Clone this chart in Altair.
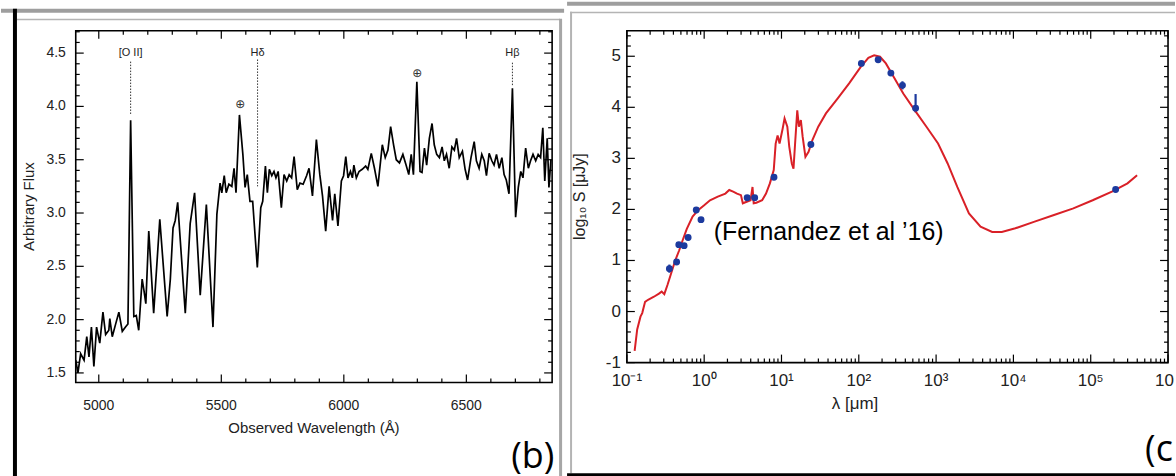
import altair as alt
import pandas as pd

# ---------------- panel (b): optical spectrum ----------------
spec_wave = [4906, 4915, 4926, 4940, 4951, 4960, 4970, 4980, 4991, 5004,
             5017, 5028, 5041, 5045, 5055, 5069, 5082, 5096, 5109, 5119,
             5130, 5143, 5153, 5163, 5177, 5184, 5192, 5204, 5224, 5249,
             5279, 5292, 5303, 5312, 5322, 5353, 5373, 5391, 5414, 5439,
             5466, 5482, 5495, 5502, 5512, 5520, 5531, 5543, 5552, 5560,
             5574, 5588, 5597, 5606, 5617, 5628, 5647, 5661, 5669, 5680,
             5688, 5696, 5706, 5715, 5723, 5732, 5745, 5756, 5767, 5777,
             5787, 5797, 5810, 5821, 5834, 5848, 5858, 5872, 5888, 5902,
             5913, 5926, 5940, 5954, 5963, 5976, 5990, 5999, 6008, 6017,
             6027, 6035, 6041, 6051, 6062, 6075, 6089, 6098, 6112, 6125,
             6139, 6157, 6169, 6180, 6191, 6203, 6214, 6227, 6241, 6254,
             6265, 6275, 6284, 6298, 6311, 6319, 6329, 6338, 6349, 6360,
             6369, 6379, 6390, 6401, 6410, 6419, 6430, 6441, 6451, 6460,
             6471, 6484, 6495, 6505, 6519, 6532, 6541, 6552, 6563, 6573,
             6582, 6593, 6604, 6613, 6623, 6634, 6645, 6654, 6663, 6674,
             6688, 6701, 6712, 6722, 6731, 6742, 6753, 6762, 6772, 6783,
             6793, 6803, 6812, 6820, 6830, 6837, 6845]
spec_flux = [1.62, 1.50, 1.68, 1.62, 1.84, 1.65, 1.93, 1.56, 1.93, 1.78,
             2.07, 1.86, 1.90, 2.01, 1.84, 1.96, 2.07, 1.89, 1.93, 1.96,
             3.87, 2.03, 2.04, 1.90, 2.38, 2.28, 2.15, 2.83, 2.06, 2.94,
             2.03, 2.38, 2.86, 2.93, 3.10, 2.06, 2.90, 3.19, 2.23, 3.08,
             1.93, 2.99, 3.28, 3.19, 3.35, 3.19, 3.27, 3.25, 3.42, 3.19,
             3.92, 3.55, 3.24, 3.36, 3.11, 3.11, 2.49, 3.05, 3.11, 3.44,
             3.19, 3.41, 3.35, 3.39, 3.33, 3.39, 3.05, 3.36, 3.30, 3.36,
             3.33, 3.53, 3.22, 3.28, 3.27, 3.35, 3.42, 3.16, 3.69, 3.36,
             3.16, 2.83, 3.25, 2.93, 3.18, 2.88, 3.30, 3.35, 3.53, 3.33,
             3.39, 3.33, 3.45, 3.33, 3.39, 3.41, 3.44, 3.41, 3.56, 3.42,
             3.25, 3.64, 3.52, 3.59, 3.81, 3.64, 3.50, 3.47, 3.55, 3.45,
             3.36, 3.55, 3.36, 4.23, 3.39, 3.38, 3.61, 3.45, 3.70, 3.84,
             3.64, 3.55, 3.52, 3.62, 3.49, 3.55, 3.42, 3.62, 3.59, 3.70,
             3.52, 3.58, 3.41, 3.31, 3.52, 3.67, 3.49, 3.42, 3.55, 3.49,
             3.35, 3.56, 3.49, 3.45, 3.55, 3.42, 3.52, 3.36, 3.31, 3.18,
             4.17, 2.96, 3.24, 3.39, 3.33, 3.61, 3.42, 3.49, 3.55, 3.49,
             3.55, 3.52, 3.80, 3.30, 3.70, 3.24, 3.50]

line_names = ["[O II]", "Hδ", "Hβ"]
line_wave = [5130, 5648, 6688]
line_top = [4.42, 4.44, 4.41]
line_bottom = [3.92, 3.25, 4.19]
line_label_y = [4.50, 4.50, 4.50]

sky_wave = [5577, 6300]
sky_y = [4.02, 4.31]
sky_symbol = ["⊕", "⊕"]

spec_x_ticks = [5000, 5500, 6000, 6500]
spec_x_labels = ["5000", "5500", "6000", "6500"]
spec_y_ticks = [1.5, 2.0, 2.5, 3.0, 3.5, 4.0, 4.5]
spec_y_labels = ["1.5", "2.0", "2.5", "3.0", "3.5", "4.0", "4.5"]

# ---------------- panel (c): SED ----------------
sed_lam = [0.126, 0.136, 0.150, 0.158, 0.172, 0.188, 0.224, 0.260, 0.282, 0.305,
           0.335, 0.385, 0.422, 0.473, 0.531, 0.596, 0.708, 0.841, 1.0, 1.19,
           1.50, 1.88, 2.11, 2.37, 2.66, 2.99, 3.16, 3.55, 3.98, 4.22,
           4.37, 4.73, 5.62, 6.31, 7.08, 7.94, 8.41, 8.91, 9.44, 10.35,
           10.96, 11.9, 12.6, 13.6, 14.3, 15.0, 16.0, 16.8, 17.8, 18.8,
           20.4, 22.4, 25.1, 29.9, 37.6, 53.1, 75.0, 106, 133, 158,
           188, 224, 282, 376, 531, 750, 1060, 1410, 1880, 2660,
           3760, 5310, 7080, 10600, 18800, 33500, 59600, 106000, 188000, 299000,
           398000]
sed_logS = [-0.77, -0.35, -0.10, -0.03, 0.19, 0.23, 0.29, 0.35, 0.39, 0.34,
            0.52, 0.81, 1.00, 1.19, 1.41, 1.62, 1.86, 1.99, 2.08, 2.18,
            2.25, 2.31, 2.38, 2.35, 2.31, 2.28, 2.12, 2.15, 2.18, 2.44,
            2.12, 2.13, 2.18, 2.31, 2.51, 2.77, 3.29, 3.45, 3.29, 3.58,
            3.78, 3.62, 3.23, 2.90, 2.80, 3.29, 3.94, 3.62, 3.75, 3.42,
            3.03, 3.13, 3.36, 3.62, 3.88, 4.17, 4.47, 4.79, 4.97, 5.02,
            4.99, 4.86, 4.60, 4.27, 3.94, 3.62, 3.29, 2.90, 2.44, 1.92,
            1.66, 1.56, 1.56, 1.63, 1.76, 1.89, 2.02, 2.18, 2.35, 2.51,
            2.67]

phot_lam = [0.355, 0.44, 0.47, 0.55, 0.62, 0.79, 0.91, 3.6, 4.5, 8.0,
            24, 108, 178, 260, 367, 543, 210000]
phot_logS = [0.84, 0.97, 1.31, 1.29, 1.45, 1.99, 1.80, 2.23, 2.23, 2.63,
             3.27, 4.86, 4.93, 4.67, 4.43, 3.98, 2.39]
phot_lo = [0.76, 0.94, 1.27, 1.25, 1.42, 1.96, 1.77, 2.20, 2.20, 2.60,
           3.24, 4.83, 4.90, 4.62, 4.35, 3.90, 2.36]
phot_hi = [0.92, 1.00, 1.35, 1.33, 1.48, 2.02, 1.83, 2.26, 2.26, 2.66,
           3.30, 4.89, 4.96, 4.72, 4.51, 4.26, 2.42]

note_text = ["(Fernandez et al ’16)"]
note_lam = [1.33]
note_logS = [1.56]

sed_x_ticks = [0.1, 1, 10, 100, 1000, 1e4, 1e5]
sed_x_labels = ["10⁻¹", "10⁰", "10¹", "10²", "10³", "10⁴", "10⁵"]
sed_x_edge_tick = [1e6]
sed_x_edge_label = ["10"]
sed_x_major = [0.1, 1, 10, 100, 1000, 1e4, 1e5, 1e6]
sed_y_ticks = [-1, 0, 1, 2, 3, 4, 5]
sed_y_labels = ["-1", "0", "1", "2", "3", "4", "5"]

# minor tick positions (axis decoration)
spec_x_minor = [v for v in range(5000, 6900, 100) if v % 500]
spec_y_minor = [round(1.5 + 0.1 * i, 1) for i in range(33)]
spec_y_minor = [v for v in spec_y_minor if round(v * 2) != v * 2]
sed_y_minor = [round(-1 + 0.2 * i, 1) for i in range(33)]
sed_y_minor = [v for v in sed_y_minor if v != int(v)]
sed_x_minor = [m * 10.0 ** k for k in range(-1, 6) for m in range(2, 10)]

FONT = "Liberation Sans"
INK = "#222"
W1, H1 = 478, 353
W2, H2 = 543, 333
MAJ, MIN = 8, 4

X1 = (4906, 6850)
Y1 = (1.41, 4.71)
X2 = (0.1, 1e6)
Y2 = (-1, 5.5)

xs1 = alt.Scale(domain=list(X1), nice=False, zero=False)
ys1 = alt.Scale(domain=list(Y1), nice=False, zero=False)
xs2 = alt.Scale(type="log", domain=list(X2), nice=False)
ys2 = alt.Scale(domain=list(Y2), nice=False, zero=False)

# tick lengths expressed in data units of each axis
uy1 = (Y1[1] - Y1[0]) / H1
ux1 = (X1[1] - X1[0]) / W1
uy2 = (Y2[1] - Y2[0]) / H2
dec2 = W2 / 7.0  # pixels per decade on the log axis


def tick_layers(xscale, yscale, xsets, ysets):
    out = []
    for vals, a, b in xsets:
        df = pd.DataFrame({"v": vals, "a": a, "b": b})
        out.append(alt.Chart(df).mark_rule(color="black", strokeWidth=1.2).encode(
            x=alt.X("v:Q", scale=xscale, axis=None),
            y=alt.Y("a:Q", scale=yscale, axis=None),
            y2="b:Q"))
    for vals, a, b in ysets:
        df = pd.DataFrame({"v": vals, "a": a, "b": b})
        out.append(alt.Chart(df).mark_rule(color="black", strokeWidth=1.2).encode(
            y=alt.Y("v:Q", scale=yscale, axis=None),
            x=alt.X("a:Q", scale=xscale, axis=None),
            x2="b:Q"))
    return out


def x_labels(vals, texts, scale, y, size, **kw):
    df = pd.DataFrame({"v": vals, "t": texts})
    return alt.Chart(df).mark_text(font=FONT, fontSize=size, baseline="top",
                                   color=INK, **kw).encode(
        x=alt.X("v:Q", scale=scale, axis=None), y=alt.value(y), text="t:N")


def y_labels(vals, texts, scale, x, size):
    df = pd.DataFrame({"v": vals, "t": texts})
    return alt.Chart(df).mark_text(font=FONT, fontSize=size, align="right",
                                   baseline="middle", color=INK).encode(
        y=alt.Y("v:Q", scale=scale, axis=None), x=alt.value(x), text="t:N")


def title_text(text, x, y, size, **kw):
    return alt.Chart(pd.DataFrame({"k": [0]})).mark_text(
        text=text, font=FONT, fontSize=size, color=INK, **kw).encode(
        x=alt.value(x), y=alt.value(y))


def deco_rect(x1, x2, y1, y2, color):
    return alt.Chart(pd.DataFrame({"k": [0]})).mark_rect(color=color).encode(
        x=alt.value(x1), x2=alt.value(x2), y=alt.value(y1), y2=alt.value(y2))


def deco_text(text, x, y):
    return alt.Chart(pd.DataFrame({"k": [0]})).mark_text(
        text=text, font="Open Sans", fontSize=36, align="left",
        baseline="alphabetic", color="black").encode(x=alt.value(x), y=alt.value(y))


# ---------------- left chart ----------------
spec_df = pd.DataFrame({"wave": spec_wave, "flux": spec_flux})
lines_df = pd.DataFrame({"name": line_names, "wave": line_wave, "top": line_top,
                         "bottom": line_bottom, "ly": line_label_y})
sky_df = pd.DataFrame({"wave": sky_wave, "y": sky_y, "s": sky_symbol})

spec_line = alt.Chart(spec_df).mark_line(color="black", strokeWidth=1.7).encode(
    x=alt.X("wave:Q", scale=xs1, axis=None),
    y=alt.Y("flux:Q", scale=ys1, axis=None),
)

line_rules = alt.Chart(lines_df).mark_rule(color="#333", strokeWidth=1, strokeDash=[1.5, 1.5]).encode(
    x=alt.X("wave:Q", scale=xs1, axis=None),
    y=alt.Y("top:Q", scale=ys1, axis=None),
    y2="bottom:Q",
)

line_text = alt.Chart(lines_df).mark_text(font=FONT, fontSize=11, color=INK).encode(
    x=alt.X("wave:Q", scale=xs1, axis=None),
    y=alt.Y("ly:Q", scale=ys1, axis=None),
    text="name:N",
)

sky_text = alt.Chart(sky_df).mark_text(font="DejaVu Sans", fontSize=12, color="#333").encode(
    x=alt.X("wave:Q", scale=xs1, axis=None),
    y=alt.Y("y:Q", scale=ys1, axis=None),
    text="s:N",
)

left_ticks = tick_layers(
    xs1, ys1,
    [(spec_x_ticks, Y1[0], Y1[0] + MAJ * uy1), (spec_x_ticks, Y1[1], Y1[1] - MAJ * uy1),
     (spec_x_minor, Y1[0], Y1[0] + MIN * uy1), (spec_x_minor, Y1[1], Y1[1] - MIN * uy1)],
    [(spec_y_ticks, X1[0], X1[0] + MAJ * ux1), (spec_y_ticks, X1[1], X1[1] - MAJ * ux1),
     (spec_y_minor, X1[0], X1[0] + MIN * ux1), (spec_y_minor, X1[1], X1[1] - MIN * ux1)],
)

left = alt.layer(
    deco_rect(-75, 490, -22, -18, "#9e9e9e"),
    deco_rect(-59, 486, -12, -10.5, "#b4b4b4"),
    deco_rect(-63, -59, -22, 454, "black"),
    deco_rect(485, 488, -12, 451, "#a6a6a6"),
    deco_rect(-75, 490, 451, 454, "black"),
    deco_text("(b)", 437, 439),
    x_labels(spec_x_ticks, spec_x_labels, xs1, H1 + 17, 14),
    y_labels(spec_y_ticks, spec_y_labels, ys1, -10, 14),
    title_text("Observed Wavelength (Å)", W1 / 2, H1 + 39, 15, baseline="top"),
    title_text("Arbitrary Flux", -47, H1 / 2, 15, angle=270, baseline="middle"),
    *left_ticks,
    line_rules, line_text, sky_text, spec_line,
).properties(width=W1, height=H1)

# ---------------- right chart ----------------
sed_df = pd.DataFrame({"lam": sed_lam, "s": sed_logS})
phot_df = pd.DataFrame({"lam": phot_lam, "s": phot_logS, "lo": phot_lo, "hi": phot_hi})
note_df = pd.DataFrame({"lam": note_lam, "s": note_logS, "t": note_text})

sed_line = alt.Chart(sed_df).mark_line(color="#d92027", strokeWidth=2).encode(
    x=alt.X("lam:Q", scale=xs2, axis=None),
    y=alt.Y("s:Q", scale=ys2, axis=None),
)

phot_err = alt.Chart(phot_df).mark_rule(color="#1c3a9e", strokeWidth=2.2).encode(
    x=alt.X("lam:Q", scale=xs2, axis=None),
    y=alt.Y("lo:Q", scale=ys2, axis=None),
    y2="hi:Q",
)

phot_pts = alt.Chart(phot_df).mark_circle(color="#1c3a9e", size=48, opacity=1).encode(
    x=alt.X("lam:Q", scale=xs2, axis=None),
    y=alt.Y("s:Q", scale=ys2, axis=None),
)

note = alt.Chart(note_df).mark_text(font=FONT, fontSize=25, align="left",
                                    baseline="middle", color="black").encode(
    x=alt.X("lam:Q", scale=xs2, axis=None),
    y=alt.Y("s:Q", scale=ys2, axis=None),
    text="t:N",
)

fmaj = 10 ** (MAJ / dec2)
fmin = 10 ** (MIN / dec2)
right_ticks = tick_layers(
    xs2, ys2,
    [(sed_x_major, Y2[0], Y2[0] + MAJ * uy2), (sed_x_major, Y2[1], Y2[1] - MAJ * uy2),
     (sed_x_minor, Y2[0], Y2[0] + MIN * uy2), (sed_x_minor, Y2[1], Y2[1] - MIN * uy2)],
    [(sed_y_ticks, X2[0], X2[0] * fmaj), (sed_y_ticks, X2[1], X2[1] / fmaj),
     (sed_y_minor, X2[0], X2[0] * fmin), (sed_y_minor, X2[1], X2[1] / fmin)],
)

right = alt.layer(
    deco_rect(-60, 550, -29, -25, "#9e9e9e"),
    deco_rect(-57, 550, -19, -17.5, "#b4b4b4"),
    deco_rect(-57, -55, -19, 444, "#b4b4b4"),
    deco_rect(-60, 550, 444, 447, "black"),
    deco_text("(c", 520, 432),
    x_labels(sed_x_ticks, sed_x_labels, xs2, H2 + 10, 17),
    x_labels(sed_x_edge_tick, sed_x_edge_label, xs2, H2 + 10, 17, align="left", dx=-13),
    y_labels(sed_y_ticks, sed_y_labels, ys2, -6, 17),
    title_text("λ [μm]", 229, H2 + 34, 17, baseline="top"),
    title_text("log₁₀ S [μJy]", -47, H2 / 2, 16, angle=270, baseline="middle"),
    *right_ticks,
    phot_err, note, sed_line, phot_pts,
).properties(width=W2, height=H2)

chart = alt.hconcat(left, right, spacing=1).properties(padding=0).configure(
    background="white", font=FONT
).configure_view(stroke="black", strokeWidth=1.6)

chart.save("out.html", embed_options={"renderer": "svg", "actions": False})
